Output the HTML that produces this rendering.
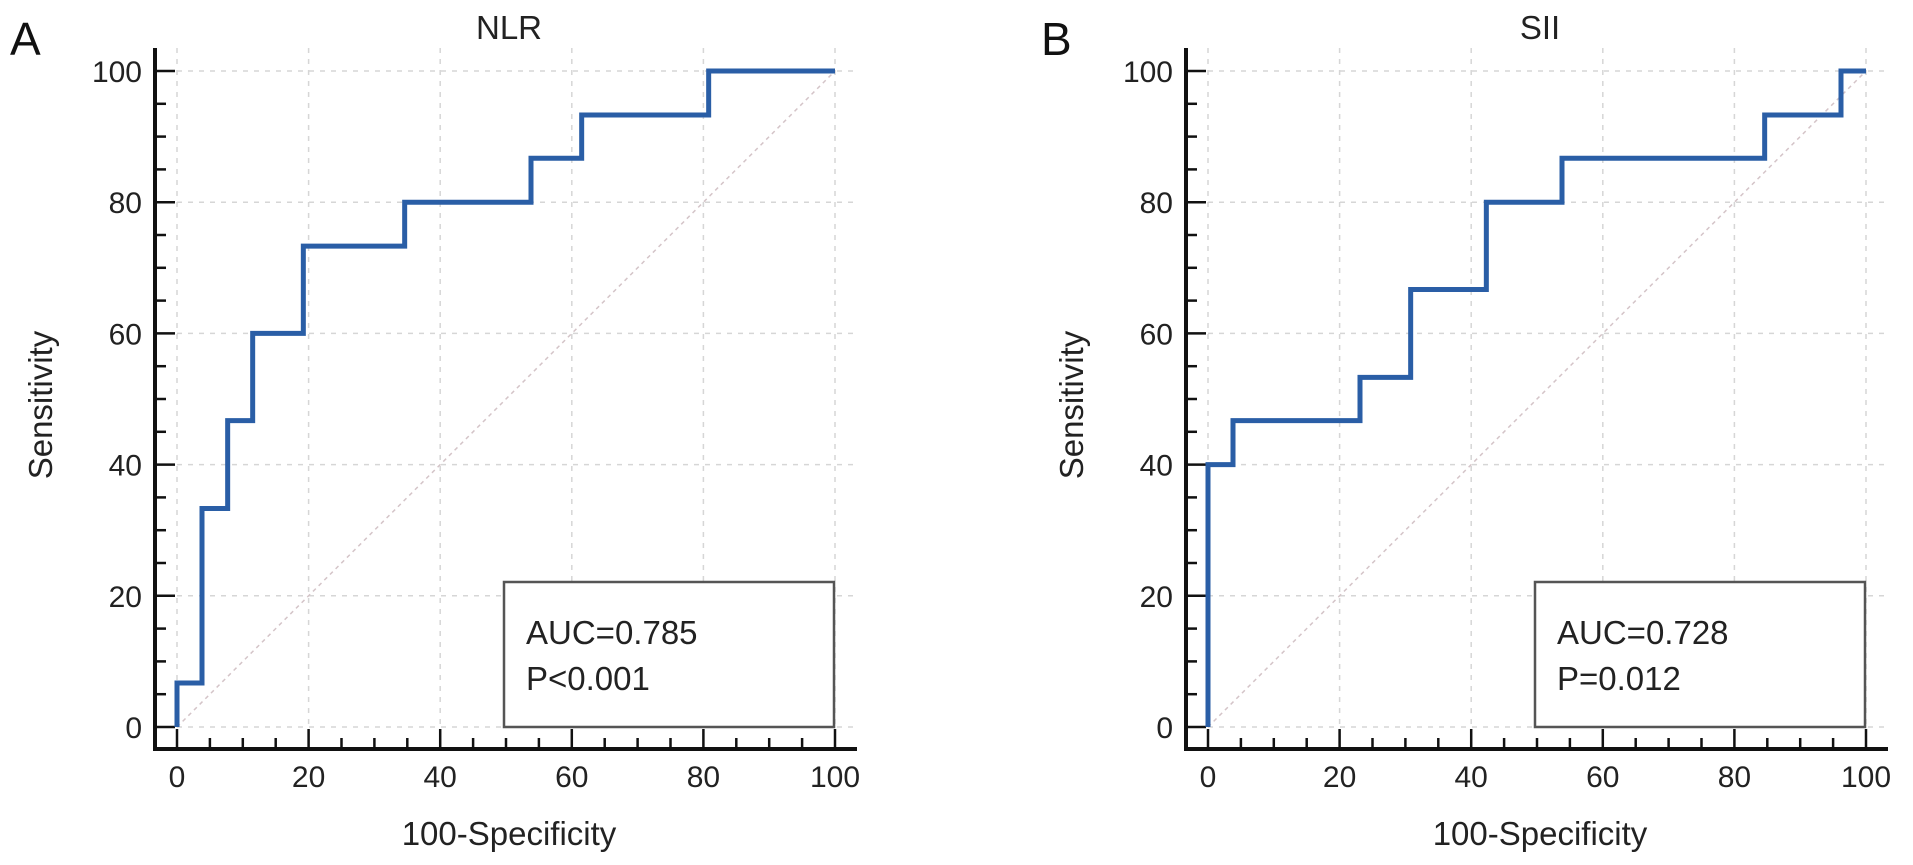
<!DOCTYPE html>
<html><head><meta charset="utf-8"><style>
html,body{margin:0;padding:0;background:#fff;}
svg{display:block;font-family:"Liberation Sans",sans-serif;}
</style></head><body>
<svg id="chart" width="1913" height="865" viewBox="0 0 1913 865"></svg>
<script>
const ticks = [0,20,40,60,80,100];
const nlrX = [0,0,3.8,3.8,7.7,7.7,11.5,11.5,19.2,19.2,34.6,34.6,53.8,53.8,61.5,61.5,80.8,80.8,100];
const nlrY = [0,6.7,6.7,33.3,33.3,46.7,46.7,60,60,73.3,73.3,80,80,86.7,86.7,93.3,93.3,100,100];
const siiX = [0,0,3.8,3.8,23.1,23.1,30.8,30.8,42.3,42.3,53.8,53.8,84.6,84.6,96.2,96.2,100];
const siiY = [0,40,40,46.7,46.7,53.3,53.3,66.7,66.7,80,80,86.7,86.7,93.3,93.3,100,100];
const titles = ["NLR","SII"];
const letters = ["A","B"];
const aucText = ["AUC=0.785","AUC=0.728"];
const pText = ["P<0.001","P=0.012"];

const NS="http://www.w3.org/2000/svg";
const svg=document.getElementById('chart');
function mk(tag,attrs,parent){const e=document.createElementNS(NS,tag);for(const k in attrs)e.setAttribute(k,attrs[k]);(parent||svg).appendChild(e);return e;}

function panel(i,off,xs,ys){
  const g=mk('g',{});
  
  
  const sx=v=>off+177+6.58*v;
  const sy=v=>727-6.56*v;
  const axL=off+155, axB=749;
  ticks.forEach(t=>{
    const gv=mk('line',{x1:sx(t),x2:sx(t),y1:48,y2:axB,stroke:'#d6d6d6','stroke-width':1.5,'stroke-dasharray':'5,6'},g);
    
    
    const gh=mk('line',{x1:axL,x2:off+855,y1:sy(t),y2:sy(t),stroke:'#d6d6d6','stroke-width':1.5,'stroke-dasharray':'5,6'},g);
    
    
  });
  const d=mk('line',{x1:sx(0),y1:sy(0),x2:sx(100),y2:sy(100),stroke:'#d4c4c8','stroke-width':1.5,'stroke-dasharray':'4,4'},g);
  
  
  const ya=mk('line',{x1:axL,x2:axL,y1:48,y2:axB+2,stroke:'#111','stroke-width':4},g);
  
  
  const xa=mk('line',{x1:axL-2,x2:off+857,y1:axB,y2:axB,stroke:'#111','stroke-width':4},g);
  
  
  for(let v=0;v<=100;v+=5){
    const major=v%20===0;
    mk('line',{x1:sx(v),x2:sx(v),y1:axB,y2:axB-(major?20:11),stroke:'#111','stroke-width':2.5},g);
    mk('line',{x1:axL,x2:axL+(major?20:11),y1:sy(v),y2:sy(v),stroke:'#111','stroke-width':2.5},g);
  }
  ticks.forEach(t=>{
    const tx=mk('text',{x:sx(t),y:787,'font-size':30,'text-anchor':'middle',fill:'#222'},g);
    tx.textContent=t;
    
    
    const ty=mk('text',{x:axL-13,y:sy(t)+11,'font-size':30,'text-anchor':'end',fill:'#222'},g);
    ty.textContent=t;
    
    
  });
  let pts=xs.map((x,k)=>sx(x)+','+sy(ys[k])).join(' ');
  const c=mk('polyline',{points:pts,fill:'none',stroke:'#2a5ea6','stroke-width':5,'stroke-linejoin':'miter'},g);
  
  
  const bx=off+504;
  const r=mk('rect',{x:bx,y:582,width:330,height:145,fill:'#fff',stroke:'#555','stroke-width':2.5},g);
  
  
  const a=mk('text',{x:bx+22,y:644,'font-size':33,fill:'#222'},g);
  a.textContent=aucText[i];
  
  
  const p=mk('text',{x:bx+22,y:690,'font-size':33,fill:'#222'},g);
  p.textContent=pText[i];
  
  
  const t=mk('text',{x:off+509,y:39,'font-size':33,'text-anchor':'middle',fill:'#222'},g);
  t.textContent=titles[i];
  
  
  const L=mk('text',{x:off+10,y:55,'font-size':46,fill:'#111'},g);
  L.textContent=letters[i];
  
  
  const xt=mk('text',{x:off+509,y:845,'font-size':33,'text-anchor':'middle',fill:'#222'},g);
  xt.textContent='100-Specificity';
  
  
  const yt=mk('text',{x:0,y:0,'font-size':33,'text-anchor':'middle',fill:'#222',transform:'translate('+(off+52)+',405) rotate(-90)'},g);
  yt.textContent='Sensitivity';
  
  
}
panel(0,0,nlrX,nlrY);
panel(1,1031,siiX,siiY);
</script>
</body></html>
